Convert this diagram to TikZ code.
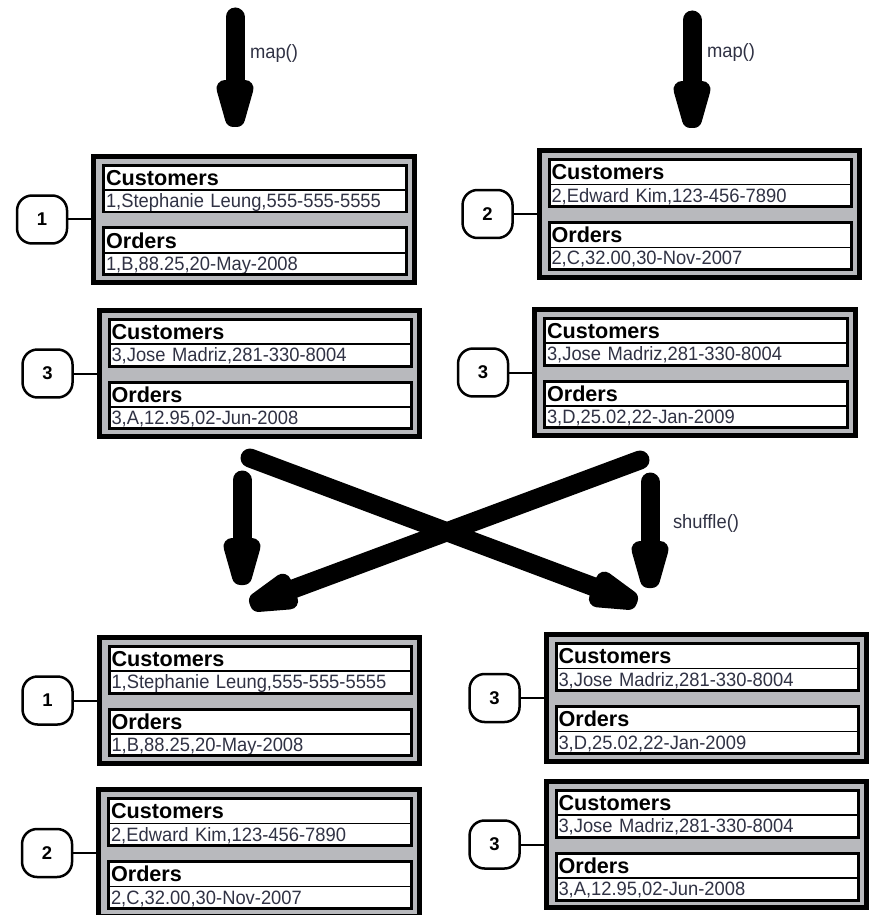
\documentclass[tikz,border=0pt]{standalone}
\usepackage{fontspec}
\setmainfont{Liberation Sans}
\newfontfamily\datafont[FakeStretch=0.95]{Liberation Sans}
\usepackage{tikz}
\usetikzlibrary{decorations.markings}
\usetikzlibrary{positioning}
\definecolor{recgray}{RGB}{184,185,189}
\definecolor{datatext}{RGB}{48,50,68}
\tikzstyle{record} = [draw, line width=0.1cm, fill=recgray, minimum width=6.42cm, minimum height=2.54cm, outer sep=0pt, inner sep=0pt]
\tikzstyle{hdr} = [draw, line width=0.8pt, fill=white, text width=5.96cm, inner xsep=0.05cm, inner ysep=0pt, outer sep=0pt, minimum height=0.5cm, text height=8.8pt, text depth=0pt, align=left, font=\bfseries\fontsize{12.3}{12.3}\selectfont]
\tikzstyle{dat} = [hdr, minimum height=0.44cm, text height=8.6pt, text depth=1.2pt, text=datatext, font=\datafont\fontsize{11}{11}\selectfont]
\tikzstyle{field} = [line width=0.06cm]
\tikzstyle{badge} = [draw, line width=0.05cm, rounded corners=0.3cm, minimum width=1.0cm, minimum height=0.96cm, outer sep=0pt, font=\bfseries\fontsize{10.5}{10.5}\selectfont]
\tikzstyle{link} = [line width=0.04cm]
\tikzstyle{fat} = [line width=0.38cm, line cap=round, shorten >=0.6cm, postaction={decorate},
    decoration={markings, mark=at position 1 with {
        \filldraw [line width=0.34cm, line join=round] (-0.77cm,0.2cm) -- (-0.17cm,0.03cm) -- (-0.17cm,-0.03cm) -- (-0.77cm,-0.2cm) -- cycle;}}]
\tikzstyle{flabel} = [anchor=west, inner sep=0pt, outer sep=0pt, text=datatext, font=\datafont\fontsize{11}{11}\selectfont]

% one record: name, centre, key, customer row, order row
\newcommand{\record}[5]{%
    \node [record] (#1) at #2 {};
    \node [hdr, anchor=north west] (#1ch) at ([xshift=0.2cm, yshift=-0.18cm]#1.north west) {Customers};
    \node [dat, below=0pt of #1ch] (#1cd) {#4};
    \draw [field] (#1ch.north west) rectangle (#1cd.south east);
    \node [hdr, below=0.32cm of #1cd] (#1oh) {Orders};
    \node [dat, below=0pt of #1oh] (#1od) {#5};
    \draw [field] (#1oh.north west) rectangle (#1od.south east);
    \node [badge, left=0.53cm of #1] (#1key) {#3};
    \draw [link] (#1key) -- (#1);
}

\begin{document}
\begin{tikzpicture}[x=0.02cm, y=-0.02cm]
    \useasboundingbox (0,0) rectangle (868,915);

    % Placing the records
    \record{mapa}{(254,219.5)}{1}{1,Stephanie Leung,555-555-5555}{1,B,88.25,20-May-2008}
    \record{mapb}{(699.5,214)}{2}{2,Edward Kim,123-456-7890}{2,C,32.00,30-Nov-2007}
    \record{mapc}{(259.5,373.5)}{3}{3,Jose Madriz,281-330-8004}{3,A,12.95,02-Jun-2008}
    \record{mapd}{(695,372.5)}{3}{3,Jose Madriz,281-330-8004}{3,D,25.02,22-Jan-2009}
    \record{reda}{(259.5,700.5)}{1}{1,Stephanie Leung,555-555-5555}{1,B,88.25,20-May-2008}
    \record{redb}{(259,853)}{2}{2,Edward Kim,123-456-7890}{2,C,32.00,30-Nov-2007}
    \record{redc}{(706.5,698)}{3}{3,Jose Madriz,281-330-8004}{3,D,25.02,22-Jan-2009}
    \record{redd}{(706.5,844.5)}{3}{3,Jose Madriz,281-330-8004}{3,A,12.95,02-Jun-2008}

    % Arrow ends
    \coordinate (mapltop) at (235,17);
    \coordinate (maplend) at (235,127);
    \coordinate (maprtop) at (692,20);
    \coordinate (maprend) at (692,128);
    \coordinate (shufltop) at (242,480);
    \coordinate (shuflend) at (242,585);
    \coordinate (shufrtop) at (650,482);
    \coordinate (shufrend) at (650,588);
    \coordinate (crossatop) at (250,458);
    \coordinate (crossaend) at (637,603);
    \coordinate (crossbtop) at (640,460);
    \coordinate (crossbend) at (250,605);

    % Connecting the stages
    \draw [fat] (mapltop) -- node [flabel, pos=0.33, xshift=0.3cm] {map()} (maplend);
    \draw [fat] (maprtop) -- node [flabel, pos=0.30, xshift=0.3cm] {map()} (maprend);
    \draw [fat] (shufltop) -- (shuflend);
    \draw [fat] (shufrtop) -- node [flabel, pos=0.39, xshift=0.46cm] {shuffle()} (shufrend);
    \draw [fat] (crossatop) -- (crossaend);
    \draw [fat] (crossbtop) -- (crossbend);
\end{tikzpicture}
\end{document}
